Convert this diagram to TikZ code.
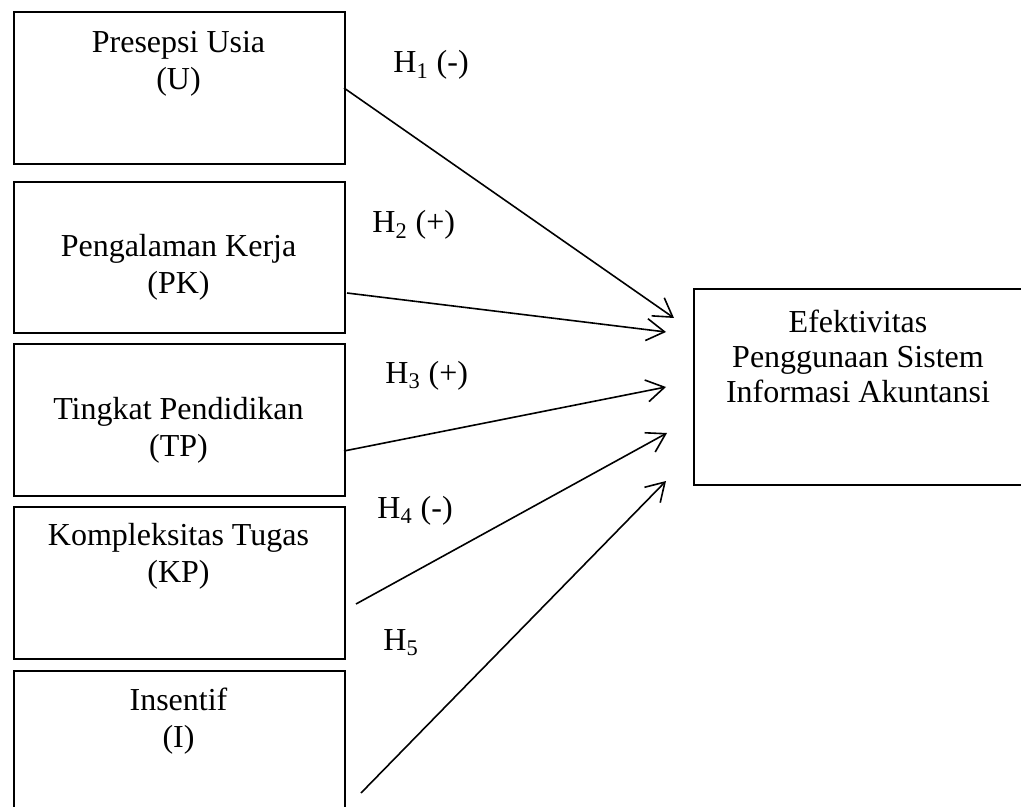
\documentclass[tikz,border=0pt]{standalone}
\usepackage{fontspec}
\setmainfont{Liberation Serif}
\usetikzlibrary{arrows.meta}
\begin{document}
\begin{tikzpicture}[x=0.5pt,y=-0.5pt,
  box/.style={draw, line width=0.9pt, inner sep=0pt, rectangle, anchor=north west},
  lbl/.style={font=\fontsize{16}{18.5}\selectfont, anchor=base, align=center, inner sep=0pt},
  lblr/.style={font=\fontsize{16}{17.5}\selectfont, anchor=base, align=center, inner sep=0pt},
  hyp/.style={font=\fontsize{16}{18}\selectfont, anchor=base west, inner sep=0pt},
  arr/.style={line width=0.8pt, -{Straight Barb[length=9pt,width=11pt,line width=0.8pt]}}]
\useasboundingbox (0,0) rectangle (1021,807);
\clip (0,0) rectangle (1021,807);
% boxes
\node[box, minimum width=165.5pt, minimum height=76pt] (U) at (13,11) {};
\node[box, minimum width=165.5pt, minimum height=75.5pt] (PK) at (13,181) {};
\node[box, minimum width=165.5pt, minimum height=76pt] (TP) at (13,343) {};
\node[box, minimum width=165.5pt, minimum height=76pt] (KP) at (13,506) {};
\node[box, minimum width=165.5pt, minimum height=80pt] (I) at (13,670) {};
\node[box, minimum width=165pt, minimum height=98pt] (E) at (693,288) {};
% texts (anchor base = baseline of last line)
\node[lbl] (tU) at (178.5,90) {Presepsi Usia\\(U)};
\node[lbl] (tPK) at (178.5,294) {Pengalaman Kerja\\(PK)};
\node[lbl] (tTP) at (178.5,456) {Tingkat Pendidikan\\(TP)};
\node[lbl] (tKP) at (178.5,582) {Kompleksitas Tugas\\(KP)};
\node[lbl] (tI) at (178.5,747) {Insentif\\(I)};
\node[lblr] (tE) at (858,402) {Efektivitas\\Penggunaan Sistem\\Informasi Akuntansi};
% hypothesis labels
\node[hyp] (h1) at (393,73) {H\textsubscript{1} (-)};
\node[hyp] (h2) at (372,233) {H\textsubscript{2} (+)};
\node[hyp] (h3) at (385,383) {H\textsubscript{3} (+)};
\node[hyp] (h4) at (377,518) {H\textsubscript{4} (-)};
\node[hyp] (h5) at (383,650) {H\textsubscript{5}};
% connector ends
\coordinate (sU) at (344,88);
\coordinate (sPK) at (347,293);
\coordinate (sTP) at (344,451);
\coordinate (sKP) at (356,604);
\coordinate (sI) at (361,793);
\coordinate (eU) at (674,318);
\coordinate (ePK) at (666,332);
\coordinate (eTP) at (666,387);
\coordinate (eKP) at (667,433);
\coordinate (eI) at (666,481);
\draw[arr] (sU) -- (eU);
\draw[arr] (sPK) -- (ePK);
\draw[arr] (sTP) -- (eTP);
\draw[arr] (sKP) -- (eKP);
\draw[arr] (sI) -- (eI);
\end{tikzpicture}
\end{document}
